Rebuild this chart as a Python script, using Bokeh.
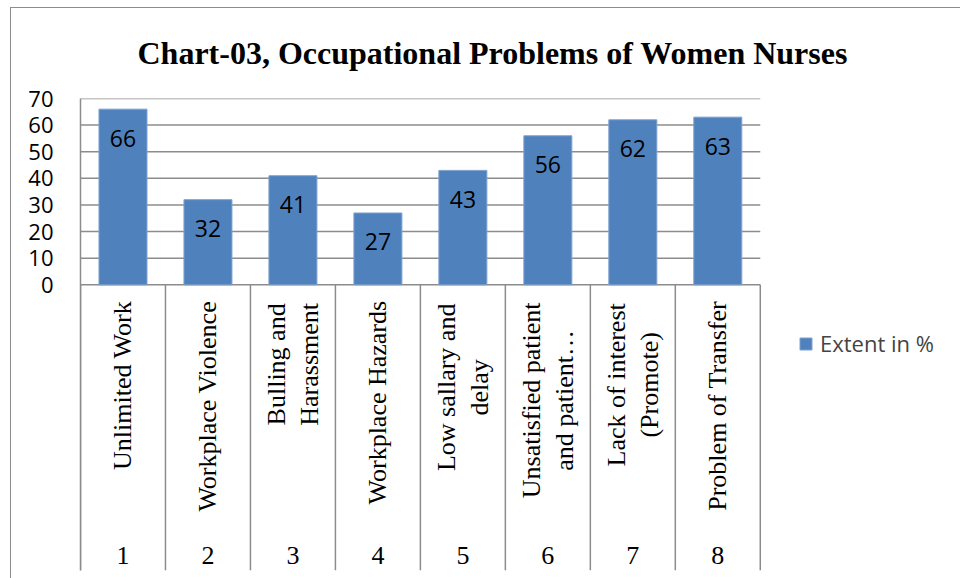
import math
from bokeh.plotting import figure
from bokeh.models import Range1d, FixedTicker, Title, Legend, LegendItem
from bokeh.core.properties import value
from bokeh.embed import file_html
from bokeh.resources import INLINE

# ---- data ----
categories = [
    "Unlimited Work",
    "Workplace Violence",
    "Bulling and\nHarassment",
    "Workplace Hazards",
    "Low sallary and\ndelay",
    "Unsatisfied patient\nand patient…",
    "Lack of interest\n(Promote)",
    "Problem of Transfer",
]
numbers = ["1", "2", "3", "4", "5", "6", "7", "8"]
extent = [66, 32, 41, 27, 43, 56, 62, 63]
y_ticks = [0, 10, 20, 30, 40, 50, 60, 70]
series_name = "Extent in %"
title_text = "Chart-03, Occupational Problems of Women Nurses"

# style: screen-pixel offsets (down from the axis) of the centre of two-line label blocks
two_line_center_offset = {2: 79.5, 4: 102.5, 5: 115.5, 6: 100}

n = len(extent)
xs = list(range(1, n + 1))
bounds = [i + 0.5 for i in range(0, n + 1)]

BLUE = "#4F81BD"
GRID = "#8C8C8C"

p = figure(
    width=950, height=571,
    x_range=Range1d(0.5, n + 0.5 + 2.368),   # extra room on the right holds the legend
    y_range=Range1d(-107.3, 70),             # extra room below holds the category table
    x_axis_location=None,
    output_backend="svg", toolbar_location=None,
    min_border_left=69, min_border_right=0, min_border_top=90, min_border_bottom=9,
)
p.styles = {"border-top": "1px solid #8C8C8C", "border-left": "1px solid #8C8C8C",
            "margin-left": "10px", "margin-top": "7px"}
p.outline_line_color = None
p.background_fill_color = "white"
p.border_fill_color = "white"

# title
p.title = Title(text=title_text, align="left", offset=57, vertical_align="top",
                text_font="Liberation Serif", text_font_size="32px",
                text_font_style="bold", text_color="black", standoff=52)

# y axis
yaxis = p.yaxis[0]
yaxis.ticker = FixedTicker(ticks=y_ticks)
yaxis.major_tick_out = 0
yaxis.major_tick_in = 0
yaxis.minor_tick_out = 0
yaxis.minor_tick_in = 0
yaxis.major_label_standoff = 27
yaxis.major_label_text_font = "Open Sans"
yaxis.major_label_text_font_size = "22px"
yaxis.major_label_text_color = "black"
yaxis.axis_line_color = GRID
yaxis.axis_line_width = 1.5

p.xgrid.visible = False
p.ygrid.visible = False

# horizontal gridlines limited to the category area
p.segment(x0=[bounds[0]] * len(y_ticks), y0=y_ticks, x1=[bounds[-1]] * len(y_ticks), y1=y_ticks,
          line_color=GRID, line_width=1.5)

# category separators
p.segment(x0=bounds, y0=[0] * len(bounds), x1=bounds, y1=[p.y_range.start] * len(bounds),
          line_color=GRID, line_width=1.5)

# bars
bars = p.vbar(x=xs, top=extent, width=0.565, fill_color=BLUE, line_color="#7FA2D0", line_width=1)

# bar value labels
p.text(x=xs, y=extent, text=[str(v) for v in extent], text_align="center",
       text_baseline="middle", y_offset=29, text_font=value("Open Sans"),
       text_font_size="23px", text_color="black")

# category labels (rotated): single-line ones aligned to the top of the table
one_idx = [i for i, c in enumerate(categories) if "\n" not in c]
p.text(x=[xs[i] for i in one_idx], y=[0] * len(one_idx), text=[categories[i] for i in one_idx],
       angle=math.pi / 2, text_align="right", text_baseline="middle", y_offset=16,
       text_font=value("Liberation Serif"), text_font_size="26px", text_color="black")

# two-line labels: lines centred on each other
two_idx = [i for i, c in enumerate(categories) if "\n" in c]
p.text(x=[xs[i] for i in two_idx], y=[0] * len(two_idx), text=[categories[i] for i in two_idx],
       angle=math.pi / 2, text_align="center", text_baseline="middle",
       y_offset=[two_line_center_offset[i] for i in two_idx],
       text_font=value("Liberation Serif"), text_font_size="26px",
       text_line_height=1.15, text_color="black")

# category numbers
p.text(x=xs, y=[p.y_range.start] * n, text=numbers, text_align="center",
       text_baseline="middle", y_offset=-15.5,
       text_font=value("Liberation Serif"), text_font_size="26px", text_color="black")

legend = Legend(items=[LegendItem(label=series_name, renderers=[bars])],
                location=(718, 212), padding=0, margin=0, border_line_color=None,
                background_fill_alpha=0, glyph_width=15, glyph_height=15,
                label_height=26, label_standoff=7,
                label_text_font="Open Sans", label_text_font_size="22px")
p.add_layout(legend, "center")

open("out.html", "w").write(file_html(p, INLINE))
